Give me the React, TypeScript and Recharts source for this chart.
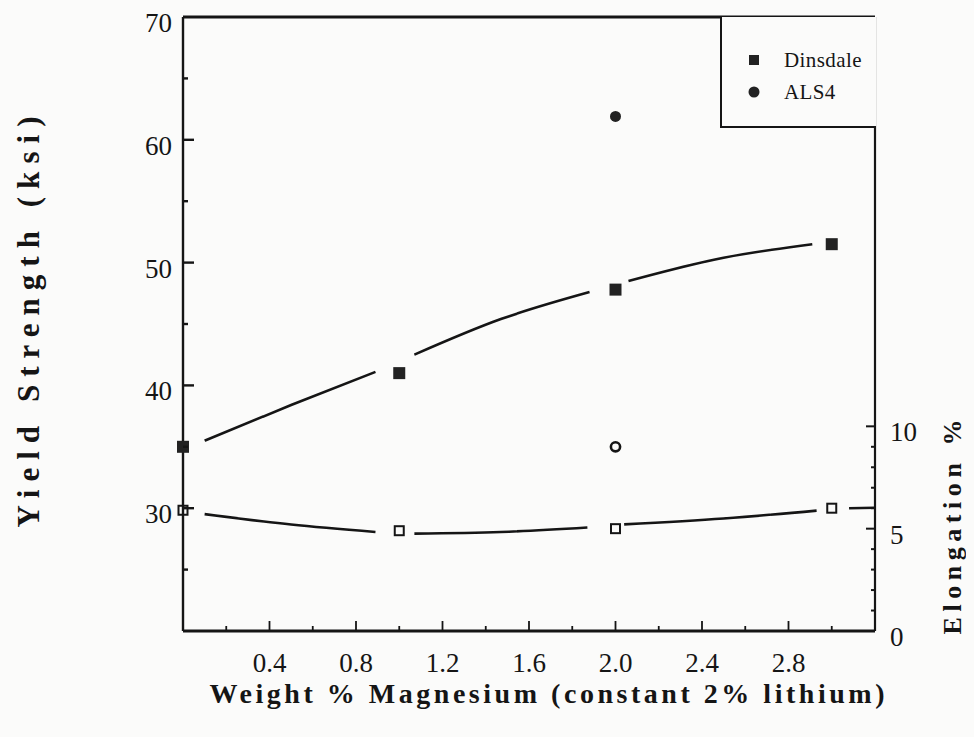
import React from 'react';
import { ComposedChart, Line, Scatter, XAxis, YAxis, Legend } from 'recharts';

// Magnesium content (wt %) of the Dinsdale alloys, 2% Li held constant
const magnesium = [0, 1, 2, 3];
const dinsdaleYield = [35.0, 41.0, 47.8, 51.5];
const dinsdaleElongation = [5.9, 4.9, 5.0, 6.0];

// ALS4 single alloy
const als4Magnesium = [2];
const als4Yield = [61.9];
const als4Elongation = [9.0];

// Hand-drawn trend curves, broken where they pass the markers: [wt % Mg, value]
const yieldCurveSegments = [
  [[0.1, 35.5], [0.5, 38.4], [0.89, 41.1]],
  [[1.07, 42.5], [1.47, 45.4], [1.88, 47.6]],
  [[2.06, 48.5], [2.5, 50.4], [2.91, 51.5]],
];
const elongationCurveSegments = [
  [[0.1, 5.71], [0.5, 5.2], [0.89, 4.84]],
  [[1.07, 4.76], [1.47, 4.84], [1.87, 5.06]],
  [[2.04, 5.21], [2.5, 5.5], [2.93, 5.88]],
  [[3.08, 6.0], [3.2, 6.02]],
];

// Axis ticks
const xTicks = [0.2, 0.4, 0.6, 0.8, 1.0, 1.2, 1.4, 1.6, 1.8, 2.0, 2.2, 2.4, 2.6, 2.8, 3.0];
const xTickLabels = ['0.4', '0.8', '1.2', '1.6', '2.0', '2.4', '2.8'];
const yieldTicks = [25, 30, 35, 40, 45, 50, 55, 60, 65, 70];
const yieldTickLabels = [30, 40, 50, 60, 70];
const elongationTicks = [0, 1, 2, 3, 4, 5, 6, 7, 8, 9, 10];
const elongationTickLabels = [0, 5, 10];

const legendItems = [
  { name: 'Dinsdale', marker: 'square' },
  { name: 'ALS4', marker: 'circle' },
];

const INK = '#151515';
const PAPER = '#fbfbfa';
const SERIF = '"Liberation Serif", "Times New Roman", serif';

const toPoints = (xs: number[], ys: number[]) => xs.map((x, i) => ({ x, v: ys[i] }));
const pairsToPoints = (pairs: number[][]) => pairs.map(([x, v]) => ({ x, v }));

const dinsdaleYieldData = toPoints(magnesium, dinsdaleYield);
const dinsdaleElongationData = toPoints(magnesium, dinsdaleElongation);
const als4YieldData = toPoints(als4Magnesium, als4Yield);
const als4ElongationData = toPoints(als4Magnesium, als4Elongation);

const tickText = { fontFamily: SERIF, fontSize: 27, fill: INK } as const;

const XTick = (props: any) => {
  const { x, y, payload } = props;
  const label = Number(payload.value).toFixed(1);
  const major = xTickLabels.includes(label);
  return (
    <g>
      <line x1={x} x2={x} y1={y} y2={y - (major ? 10 : 5)} stroke={INK} strokeWidth={1.8} />
      {major && (
        <text x={x} y={y + 41} textAnchor="middle" {...tickText}>
          {label}
        </text>
      )}
    </g>
  );
};

const LeftTick = (props: any) => {
  const { x, y, payload } = props;
  const v = Number(payload.value);
  const major = yieldTickLabels.includes(v);
  return (
    <g>
      {v < 70 && <line x1={x} x2={x + (major ? 11 : 5)} y1={y} y2={y} stroke={INK} strokeWidth={2.4} />}
      {major && (
        <text x={x - 11} y={y + 15} textAnchor="end" {...tickText}>
          {v}
        </text>
      )}
    </g>
  );
};

const RightTick = (props: any) => {
  const { x, y, payload } = props;
  const v = Number(payload.value);
  const major = elongationTickLabels.includes(v);
  return (
    <g>
      {v > 0 && <line x1={x} x2={x - (major ? 9 : 4)} y1={y} y2={y} stroke={INK} strokeWidth={2} />}
      {major && (
        <text x={x + 15} y={y + 15} textAnchor="start" {...tickText}>
          {v}
        </text>
      )}
    </g>
  );
};

const filledSquare = (props: any) => (
  <rect x={props.cx - 6} y={props.cy - 6} width={12} height={12} fill="#222" />
);
const openSquare = (props: any) => (
  <rect x={props.cx - 4.5} y={props.cy - 4.5} width={9} height={9} fill="none" stroke={INK} strokeWidth={2} />
);
const filledCircle = (props: any) => <circle cx={props.cx} cy={props.cy} r={5.5} fill="#222" />;
const openCircle = (props: any) => (
  <circle cx={props.cx} cy={props.cy} r={4.6} fill="none" stroke={INK} strokeWidth={2.6} />
);

const LegendBox = () => (
  <div
    style={{
      width: 156,
      height: 111,
      boxSizing: 'border-box',
      borderLeft: `2px solid ${INK}`,
      borderBottom: `2.5px solid ${INK}`,
      position: 'relative',
      background: PAPER,
    }}
  >
    {legendItems.map((item, i) => (
      <div key={item.name} style={{ position: 'absolute', left: 0, top: 30 + i * 32, height: 26, width: 150 }}>
        <svg width={40} height={26} style={{ position: 'absolute', left: 12, top: 0 }}>
          {item.marker === 'square' ? (
            <rect x={15} y={8} width={10} height={10} fill="#222" />
          ) : (
            <circle cx={20} cy={13} r={5.5} fill="#222" />
          )}
        </svg>
        <span
          style={{
            position: 'absolute',
            left: 62,
            top: 0,
            fontFamily: SERIF,
            fontSize: 21,
            lineHeight: '26px',
            color: INK,
            letterSpacing: 0.4,
          }}
        >
          {item.name}
        </span>
      </div>
    ))}
  </div>
);

const curveProps = {
  dataKey: 'v',
  type: 'monotone' as const,
  stroke: INK,
  strokeWidth: 2.6,
  dot: false,
  activeDot: false,
  isAnimationActive: false,
  legendType: 'none' as const,
};

export default function App() {
  const W = 958;
  const H = 721;
  return (
    <div style={{ position: 'relative', width: W, height: H, background: PAPER }}>
      <div style={{ position: 'fixed', inset: 0, background: PAPER, zIndex: -1 }} />
      <ComposedChart width={W} height={H} margin={{ top: 8, right: 90, bottom: 97, left: 174 }}>
        <XAxis
          type="number"
          dataKey="x"
          domain={[0, 3.2]}
          ticks={xTicks}
          interval={0}
          height={1}
          tickSize={0}
          tickMargin={0}
          tick={<XTick />}
          axisLine={{ stroke: INK, strokeWidth: 3 }}
        />
        <XAxis
          xAxisId="top"
          orientation="top"
          type="number"
          domain={[0, 3.2]}
          height={1}
          tick={false}
          tickLine={false}
          axisLine={{ stroke: INK, strokeWidth: 3 }}
        />
        <YAxis
          yAxisId="left"
          type="number"
          domain={[20, 70]}
          ticks={yieldTicks}
          interval={0}
          width={1}
          tickSize={0}
          tickMargin={0}
          tick={<LeftTick />}
          axisLine={{ stroke: INK, strokeWidth: 2.4 }}
        />
        <YAxis
          yAxisId="right"
          orientation="right"
          type="number"
          domain={[0, 30]}
          ticks={elongationTicks}
          interval={0}
          width={1}
          tickSize={0}
          tickMargin={0}
          tick={<RightTick />}
          axisLine={{ stroke: INK, strokeWidth: 2.2 }}
        />
        <Legend
          layout="vertical"
          align="center"
          verticalAlign="middle"
          content={() => <LegendBox />}
          wrapperStyle={{ position: 'absolute', left: 712, top: 9, width: 156, height: 111 }}
        />
        {yieldCurveSegments.map((seg, i) => (
          <Line key={`yc-${i}`} yAxisId="left" data={pairsToPoints(seg)} {...curveProps} />
        ))}
        {elongationCurveSegments.map((seg, i) => (
          <Line key={`ec-${i}`} yAxisId="right" data={pairsToPoints(seg)} {...curveProps} />
        ))}
        <Scatter yAxisId="left" name="Dinsdale" data={dinsdaleYieldData} dataKey="v" shape={filledSquare} isAnimationActive={false} />
        <Scatter yAxisId="right" name="Dinsdale elongation" data={dinsdaleElongationData} dataKey="v" shape={openSquare} isAnimationActive={false} />
        <Scatter yAxisId="left" name="ALS4" data={als4YieldData} dataKey="v" shape={filledCircle} isAnimationActive={false} />
        <Scatter yAxisId="right" name="ALS4 elongation" data={als4ElongationData} dataKey="v" shape={openCircle} isAnimationActive={false} />
      </ComposedChart>
      <svg width={W} height={H} style={{ position: 'absolute', left: 0, top: 0, pointerEvents: 'none' }}>
        <text
          x={539}
          y={695}
          textAnchor="middle"
          textLength={675}
          lengthAdjust="spacing"
          fontFamily={SERIF}
          fontWeight="bold"
          fontSize={28}
          fill={INK}
        >
          Weight % Magnesium (constant 2% lithium)
        </text>
        <text
          transform="translate(31 314) rotate(-90)"
          textAnchor="middle"
          textLength={411}
          lengthAdjust="spacing"
          fontFamily={SERIF}
          fontWeight="bold"
          fontSize={31}
          fill={INK}
        >
          Yield Strength (ksi)
        </text>
        <text
          transform="translate(953 519) rotate(-90)"
          textAnchor="middle"
          textLength={215}
          lengthAdjust="spacing"
          fontFamily={SERIF}
          fontWeight="bold"
          fontSize={26}
          fill={INK}
        >
          Elongation %
        </text>
      </svg>
    </div>
  );
}
